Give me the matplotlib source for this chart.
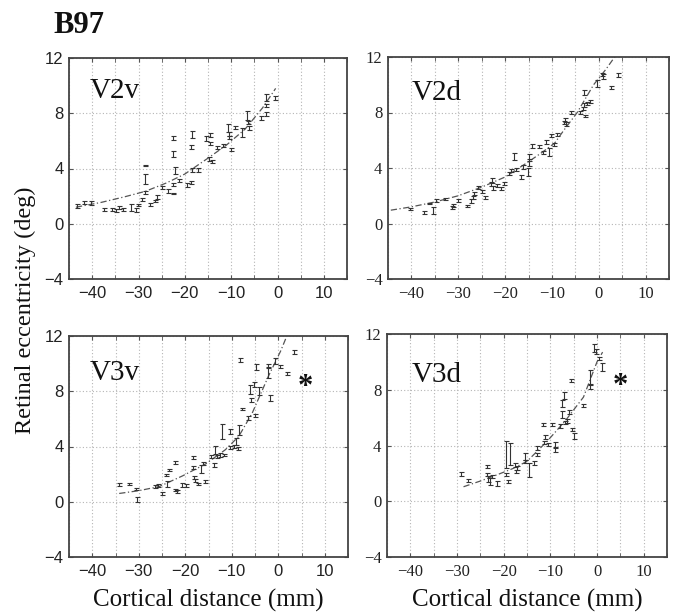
import matplotlib
matplotlib.use("Agg")
import matplotlib.pyplot as plt
from matplotlib.ticker import MultipleLocator

# ---------------- data ----------------
v2v_x = [-43.3, -41.7, -40.3, -37.4, -35.8, -34.8, -34.2, -33.3, -31.7, -30.6, -30.2, -29.2,
         -28.6, -28.6, -28.6, -27.6, -26.5, -26.1, -25.0, -23.6, -22.5, -22.5, -22.1, -22.5,
         -22.5, -21.2, -19.6, -18.6, -18.4, -18.6, -18.4, -17.1, -15.5, -14.6, -14.6, -14.8,
         -14.1, -13.1, -11.8, -10.1, -10.6, -10.4, -10.4, -9.1, -7.6, -6.6, -6.4, -6.2, -3.6,
         -2.5, -2.5, -2.5, -0.5]
v2v_y = [1.28, 1.52, 1.50, 1.04, 1.04, 0.95, 1.20, 1.04, 1.20, 1.00, 1.35, 1.77,
         2.25, 3.22, 4.20, 1.40, 1.65, 1.94, 2.62, 2.38, 2.18, 2.86, 3.83, 5.04,
         6.20, 3.15, 2.80, 3.00, 3.88, 5.58, 6.45, 3.90, 6.18, 6.45, 5.80, 4.68,
         4.50, 5.50, 5.65, 5.40, 6.93, 6.50, 6.25, 6.98, 6.60, 7.83, 7.35, 6.93, 7.66,
         7.95, 8.56, 9.15, 9.10]
v2v_e = [0.12, 0.12, 0.12, 0.1, 0.1, 0.1, 0.1, 0.1, 0.25, 0.12, 0.1, 0.1,
         0.12, 0.35, 0.03, 0.1, 0.1, 0.12, 0.12, 0.12, 0.03, 0.12, 0.25, 0.2,
         0.15, 0.1, 0.12, 0.12, 0.15, 0.15, 0.25, 0.12, 0.2, 0.15, 0.12, 0.12,
         0.1, 0.12, 0.12, 0.12, 0.3, 0.12, 0.12, 0.12, 0.3, 0.35, 0.12, 0.12, 0.12,
         0.12, 0.12, 0.25, 0.15]
v2v_cx = [-43.5, -38, -33, -28.5, -24, -20, -15, -11, -7, -3.2, -0.4]
v2v_cy = [1.2, 1.55, 1.95, 2.35, 2.95, 3.6, 4.75, 5.7, 6.85, 8.4, 9.8]

v2d_x = [-40.3, -37.4, -35.3, -36.2, -34.8, -32.8, -31.4, -31.2, -30.1, -28.1, -27.3, -26.9,
         -26.6, -25.7, -24.2, -25.0, -23.1, -22.9, -22.6, -21.7, -20.9, -20.3, -19.1, -18.7,
         -18.1, -17.6, -16.7, -16.2, -15.1, -14.9, -15.0, -14.3, -12.8, -11.9, -11.2, -10.7,
         -10.3, -9.6, -8.9, -7.4, -6.9, -7.1, -5.9, -4.1, -3.4, -3.0, -3.2, -2.5, -1.9,
         -3.2, -0.4, 0.9, 0.7, 2.6, 4.1]
v2d_y = [1.05, 0.77, 0.93, 1.44, 1.68, 1.75, 1.15, 1.32, 1.68, 1.25, 1.63, 1.87,
         2.16, 2.59, 1.87, 2.28, 2.87, 3.10, 2.56, 2.75, 2.51, 2.87, 3.60, 3.83,
         4.84, 3.88, 3.35, 4.07, 3.71, 4.43, 4.79, 5.56, 5.56, 5.10, 5.87, 5.15,
         6.35, 5.70, 6.44, 7.28, 7.16, 7.45, 7.98, 8.00, 8.31, 7.74, 8.55, 8.65, 8.80,
         9.44, 10.10, 10.60, 10.75, 9.80, 10.70]
v2d_e = [0.1, 0.12, 0.25, 0.05, 0.12, 0.08, 0.1, 0.12, 0.1, 0.08, 0.12, 0.12,
         0.12, 0.1, 0.1, 0.1, 0.15, 0.2, 0.12, 0.12, 0.1, 0.1, 0.12, 0.12,
         0.25, 0.12, 0.12, 0.12, 0.3, 0.25, 0.25, 0.15, 0.12, 0.12, 0.15, 0.3,
         0.12, 0.1, 0.1, 0.12, 0.12, 0.12, 0.1, 0.08, 0.12, 0.1, 0.12, 0.12, 0.12,
         0.15, 0.25, 0.15, 0.12, 0.12, 0.12]
v2d_cx = [-44.4, -40, -35, -30, -25, -20, -15, -12, -9.4, -7.5, -4.6, -1.1, 1.5, 3.4]
v2d_cy = [0.96, 1.2, 1.55, 2.0, 2.62, 3.35, 4.45, 5.15, 5.8, 6.7, 8.0, 10.0, 11.1, 12.0]

v3v_x = [-34.2, -32.2, -30.6, -30.3, -26.4, -25.8, -24.9, -23.9, -24.2, -23.4, -22.2, -22.1,
         -21.7, -20.8, -19.8, -18.3, -18.3, -18.1, -17.8, -17.2, -16.7, -16.2, -15.8, -14.4,
         -13.9, -13.5, -13.1, -12.6, -11.7, -12.2, -10.3, -10.3, -9.6, -9.1, -8.6, -8.5,
         -8.3, -7.8, -6.4, -6.0, -5.8, -5.3, -4.9, -4.7, -4.2, -2.2, -2.1, -1.7, -0.8,
         0.3, 1.9, 3.3]
v3v_y = [1.26, 1.26, 0.92, 0.17, 1.09, 1.16, 0.61, 1.28, 1.94, 2.30, 2.84, 0.85,
         0.73, 1.21, 1.16, 3.22, 2.50, 1.77, 1.53, 1.28, 2.36, 2.79, 1.45, 3.27,
         2.67, 3.76, 3.27, 3.39, 3.39, 5.09, 5.09, 3.95, 4.00, 4.36, 3.88, 5.20,
         10.25, 6.72, 6.06, 8.12, 7.39, 8.48, 6.23, 9.75, 8.00, 9.33, 9.82, 7.52, 10.18,
         9.77, 9.28, 10.84]
v3v_e = [0.1, 0.08, 0.1, 0.2, 0.1, 0.1, 0.1, 0.2, 0.08, 0.1, 0.12, 0.1,
         0.1, 0.12, 0.1, 0.12, 0.12, 0.12, 0.1, 0.1, 0.3, 0.12, 0.1, 0.12,
         0.12, 0.3, 0.12, 0.12, 0.1, 0.55, 0.15, 0.12, 0.1, 0.25, 0.1, 0.35,
         0.15, 0.1, 0.12, 0.3, 0.15, 0.2, 0.12, 0.2, 0.3, 0.4, 0.15, 0.2, 0.2,
         0.12, 0.08, 0.12]
v3v_cx = [-34.2, -30, -25.6, -20.6, -15.6, -11.4, -8.5, -5.6, -2.1, 0.5, 1.6]
v3v_cy = [0.6, 0.8, 1.1, 1.87, 2.74, 3.76, 4.73, 6.42, 9.1, 10.9, 11.8]

v3d_x = [-29.1, -27.7, -23.6, -23.6, -23.4, -23.0, -22.5, -21.4, -19.4, -18.6, -19.6, -19.1,
         -17.5, -17.1, -17.3, -15.4, -15.4, -14.6, -13.6, -12.9, -12.9, -11.4, -11.1, -10.6,
         -11.6, -9.6, -9.1, -8.9, -7.9, -7.5, -7.5, -7.0, -6.8, -6.4, -5.9, -5.4, -5.0,
         -5.5, -2.9, -1.4, -1.4, -0.6, -0.2, 0.5, 1.1]
v3d_y = [1.94, 1.48, 2.50, 1.94, 1.60, 1.40, 1.77, 1.28, 3.35, 3.40, 1.90, 1.40,
         2.60, 2.38, 2.13, 3.22, 2.86, 2.25, 2.74, 3.35, 3.83, 4.20, 4.60, 4.07,
         5.53, 5.53, 4.07, 3.70, 5.40, 6.25, 6.98, 7.60, 5.65, 5.77, 6.40, 5.16, 4.68,
         8.68, 6.86, 8.90, 8.20, 10.98, 10.74, 10.25, 9.65]
v3d_e = [0.15, 0.1, 0.12, 0.12, 0.2, 0.25, 0.12, 0.2, 0.95, 0.8, 0.12, 0.12,
         0.15, 0.12, 0.12, 0.25, 0.12, 0.5, 0.12, 0.12, 0.12, 0.12, 0.12, 0.12,
         0.12, 0.12, 0.2, 0.15, 0.12, 0.25, 0.25, 0.25, 0.12, 0.12, 0.12, 0.12, 0.2,
         0.12, 0.1, 0.5, 0.12, 0.3, 0.15, 0.12, 0.3]
v3d_cx = [-28.6, -25, -21.4, -18, -15, -10.7, -6.8, -2.9, 0, 1.2]
v3d_cy = [1.04, 1.45, 1.9, 2.35, 2.86, 4.3, 5.77, 7.47, 10.0, 10.7]

x_ticks = [-40, -30, -20, -10, 0, 10]
y_ticks = [-4, 0, 4, 8, 12]
panel_names = ["V2v", "V2d", "V3v", "V3d"]
title = "B97"
x_label = "Cortical distance (mm)"
y_label = "Retinal eccentricity (deg)"

# ---------------- figure ----------------
W, H = 676, 614
fig = plt.figure(figsize=(W / 100, H / 100), dpi=100)

def rect(l, t, r, b):
    return [l / W, 1 - b / H, (r - l) / W, (b - t) / H]

rects = [rect(69, 58, 347, 279), rect(388, 57, 669, 279),
         rect(69, 336, 348, 557), rect(387, 334, 667, 557)]
tick_fonts = ["Liberation Sans", "Liberation Serif", "Liberation Sans", "Liberation Serif"]
label_pos = [(0.075, 0.82), (0.085, 0.806), (0.075, 0.80), (0.089, 0.785)]
datasets = [(v2v_x, v2v_y, v2v_e, v2v_cx, v2v_cy),
            (v2d_x, v2d_y, v2d_e, v2d_cx, v2d_cy),
            (v3v_x, v3v_y, v3v_e, v3v_cx, v3v_cy),
            (v3d_x, v3d_y, v3d_e, v3d_cx, v3d_cy)]
star_pos = [None, None, (5.9, 8.3), (5.1, 8.2)]

for i, (xs, ys, es, cx, cy) in enumerate(datasets):
    ax = fig.add_axes(rects[i])
    ax.set_xlim(-45, 15)
    ax.set_ylim(-4, 12)
    ax.set_xticks(x_ticks)
    ax.set_yticks(y_ticks)
    ax.xaxis.set_minor_locator(MultipleLocator(5))
    ax.grid(which="both", axis="x", linestyle=(0, (1, 2)), color="#b5b5b5", linewidth=0.8)
    ax.grid(which="major", axis="y", linestyle=(0, (1, 2)), color="#b5b5b5", linewidth=0.8)
    ax.set_axisbelow(True)
    ax.tick_params(which="both", direction="in", length=3, top=True, right=True,
                   color="#555555", labelsize=12, pad=4)
    ax.tick_params(axis="x", pad=5)
    for lab in ax.get_xticklabels() + ax.get_yticklabels():
        lab.set_fontfamily(tick_fonts[i])
        lab.set_color("#222222")
    for s in ax.spines.values():
        s.set_color("#444444")
        s.set_linewidth(1.3)
    ax.plot(cx, cy, linestyle=(0, (5, 2, 1, 2)), color="#555555", linewidth=0.9)
    ax.errorbar(xs, ys, yerr=es, fmt="none", ecolor="#333333", elinewidth=0.8,
                capsize=1.8, capthick=0.8)
    ax.text(label_pos[i][0], label_pos[i][1], panel_names[i], transform=ax.transAxes,
            fontfamily="Liberation Serif", fontsize=21, color="#111111",
            ha="left", va="baseline")
    if star_pos[i] is not None:
        ax.text(star_pos[i][0], star_pos[i][1], "*", fontfamily="Liberation Serif",
                fontweight="bold", fontsize=22, color="#111111", ha="center", va="center")

fig.text(53 / W, 1 - 33 / H, title, fontfamily="Liberation Serif", fontweight="bold",
         fontsize=22, ha="left", va="baseline", color="#111111")
fig.text(25 / W, 1 - 310 / H, y_label, rotation=90, fontfamily="Liberation Serif",
         fontsize=17.5, ha="center", va="center", color="#111111")
fig.text(208 / W, 1 - 607 / H, x_label, fontfamily="Liberation Serif",
         fontsize=18, ha="center", va="baseline", color="#111111")
fig.text(527 / W, 1 - 607 / H, x_label, fontfamily="Liberation Serif",
         fontsize=18, ha="center", va="baseline", color="#111111")

fig.savefig("out.png", dpi=100)
